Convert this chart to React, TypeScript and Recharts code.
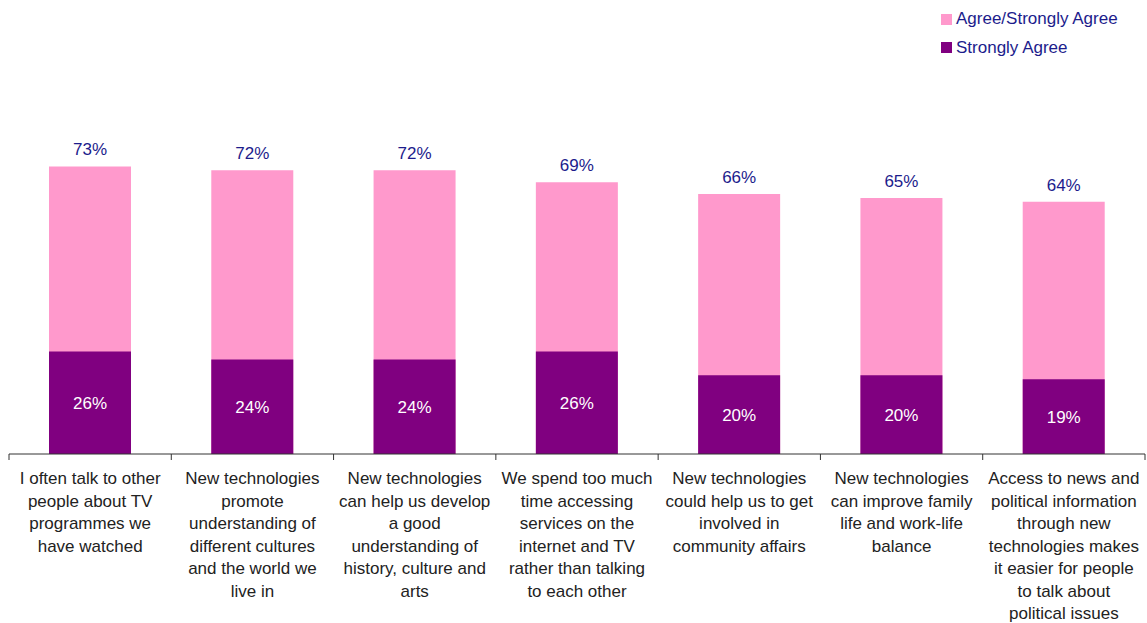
import { BarChart, Bar, XAxis, YAxis, LabelList } from 'recharts';

const categories = [
  'I often talk to other\npeople about TV\nprogrammes we\nhave watched',
  'New technologies\npromote\nunderstanding of\ndifferent cultures\nand the world we\nlive in',
  'New technologies\ncan help us develop\na good\nunderstanding of\nhistory, culture and\narts',
  'We spend too much\ntime accessing\nservices on the\ninternet and TV\nrather than talking\nto each other',
  'New technologies\ncould help us to get\ninvolved in\ncommunity affairs',
  'New technologies\ncan improve family\nlife and work-life\nbalance',
  'Access to news and\npolitical information\nthrough new\ntechnologies makes\nit easier for people\nto talk about\npolitical issues',
];
const agreeValues = [73, 72, 72, 69, 66, 65, 64];
const stronglyValues = [26, 24, 24, 26, 20, 20, 19];

const PINK = '#FF99CC';
const PURPLE = '#800080';
const NAVY = '#1C1C8C';
const FONT = '"Liberation Sans", Arial, sans-serif';
const FS = 17;

const data = categories.map((c, i) => ({
  name: c,
  agree: agreeValues[i],
  strongly: stronglyValues[i],
}));

// 分类标签：多行文字 + 分隔刻度
function CategoryTick(props: any) {
  const { x, y, payload, index } = props;
  const half = payload?.offset ?? 81;
  const lines = String(payload.value).split('\n');
  return (
    <g>
      <line x1={x - half} y1={y - 8} x2={x - half} y2={y - 2} stroke="#333" />
      {index === categories.length - 1 && (
        <line x1={x + half} y1={y - 8} x2={x + half} y2={y - 2} stroke="#333" />
      )}
      <text x={x} y={y} textAnchor="middle" fontSize={FS} fill="#222" fontFamily={FONT}>
        {lines.map((l, i) => (
          <tspan key={i} x={x} dy={i === 0 ? 22 : 22.5}>{l}</tspan>
        ))}
      </text>
    </g>
  );
}

function LegendBox() {
  const items = [
    { label: 'Agree/Strongly Agree', color: PINK },
    { label: 'Strongly Agree', color: PURPLE },
  ];
  return (
    <div style={{ position: 'absolute', left: 941, top: 5, fontFamily: FONT, fontSize: FS, color: NAVY }}>
      {items.map(it => (
        <div key={it.label} style={{ display: 'flex', alignItems: 'center', height: 28.5 }}>
          <span style={{ display: 'inline-block', width: 11, height: 11, background: it.color, marginRight: 4 }} />
          {it.label}
        </div>
      ))}
    </div>
  );
}

export default function App() {
  return (
    <div style={{ position: 'absolute', left: 0, top: 0, width: 1147, height: 623, background: '#fff' }}>
      <BarChart
        width={1147}
        height={623}
        data={data}
        margin={{ top: 60, right: 2, left: 9, bottom: 0 }}
        barSize={82}
      >
        <XAxis
          xAxisId="a"
          dataKey="name"
          height={169}
          axisLine={{ stroke: '#333' }}
          tickLine={false}
          tick={<CategoryTick />}
          interval={0}
        />
        <XAxis xAxisId="s" dataKey="name" hide />
        <YAxis hide domain={[0, 100]} />
        <Bar xAxisId="a" dataKey="agree" fill={PINK} isAnimationActive={false}>
          <LabelList dataKey="agree" position="top" offset={11} formatter={(v: any) => `${v}%`}
            style={{ fill: NAVY, fontSize: FS, fontFamily: FONT }} />
        </Bar>
        <Bar xAxisId="s" dataKey="strongly" fill={PURPLE} isAnimationActive={false}>
          <LabelList dataKey="strongly" position="center" offset={0} formatter={(v: any) => `${v}%`}
            style={{ fill: '#fff', fontSize: FS, fontFamily: FONT }} />
        </Bar>
      </BarChart>
      <LegendBox />
    </div>
  );
}
